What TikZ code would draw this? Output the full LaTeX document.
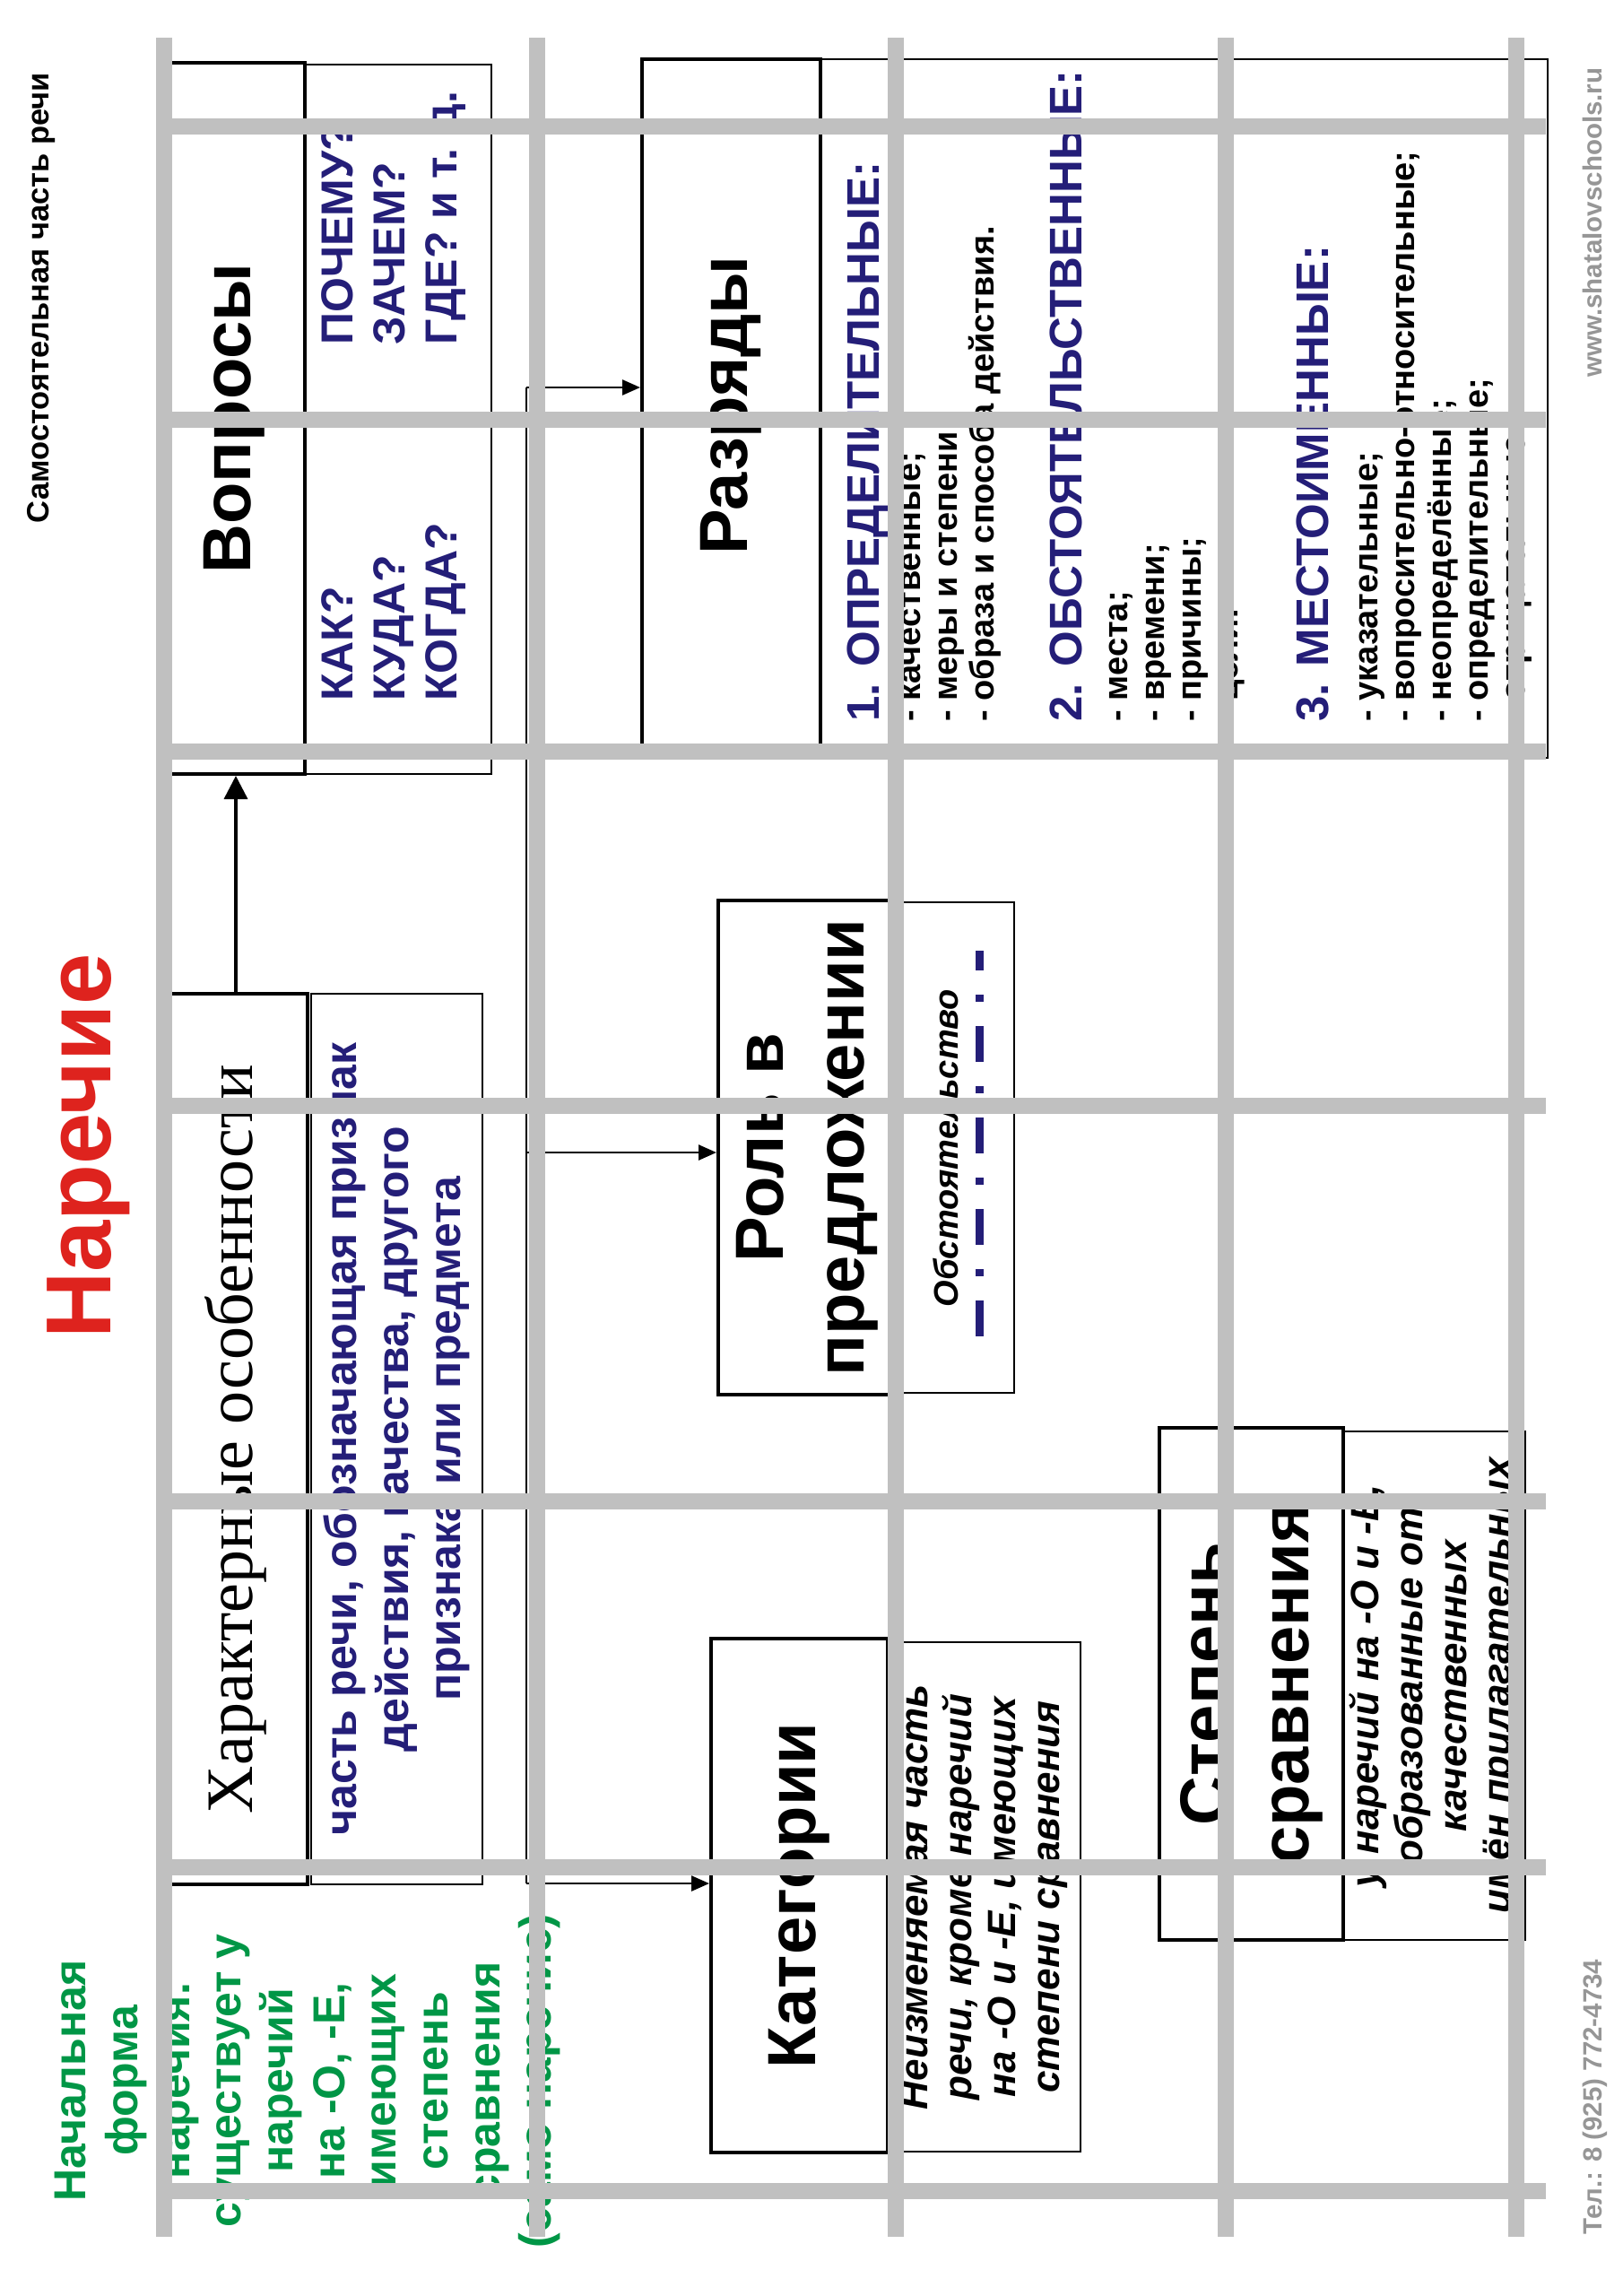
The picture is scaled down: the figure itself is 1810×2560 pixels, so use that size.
\documentclass[tikz,border=0pt]{standalone}
\usepackage{fontspec}
\setmainfont{Liberation Sans}
\newfontfamily\serifrm{Liberation Serif}
\usetikzlibrary{arrows.meta}

\definecolor{navy}{RGB}{36,30,120}
\definecolor{adgreen}{RGB}{0,150,70}
\definecolor{adred}{RGB}{222,35,30}
\definecolor{gridgrey}{RGB}{192,192,192}
\definecolor{footgrey}{RGB}{150,150,150}

\begin{document}
\begin{tikzpicture}[x=1pt,y=-1pt,
  bigbox/.style={draw,line width=4pt,rotate=90,inner sep=0pt,align=center,
    font=\bfseries\fontsize{76}{90}\selectfont},
  thinbox/.style={draw,line width=2pt,rotate=90,inner sep=0pt,align=center},
  navyfont/.style={text=navy,font=\bfseries\fontsize{50}{58}\selectfont},
  navytext/.style={rotate=90,inner sep=0pt,navyfont},
  head/.style={rotate=90,inner sep=0pt,text=navy,
    font=\bfseries\fontsize{51}{56}\selectfont},
  item/.style={rotate=90,inner sep=0pt,align=left,
    font=\bfseries\fontsize{38}{41}\selectfont},
  note/.style={font=\bfseries\itshape\fontsize{44}{49}\selectfont},
  foot/.style={rotate=90,inner sep=0pt,text=footgrey,
    font=\bfseries\fontsize{29.5}{34}\selectfont},
  arr/.style={-{Triangle[length=20pt,width=17pt]},line width=2.5pt},
  gridbar/.style={draw=gridgrey,line width=18pt}]
\useasboundingbox (0,0) rectangle (1810,2560);

% titles and footer
\node[rotate=90,inner sep=0pt,font=\bfseries\fontsize{34.5}{40}\selectfont,anchor=base]
  (part) at (54,332) {Самостоятельная часть речи};
\node[rotate=90,inner sep=0pt,text=adred,font=\bfseries\fontsize{103}{110}\selectfont,anchor=base]
  (title) at (123,1278) {Наречие};
\node[foot,anchor=base] (site) at (1786,248) {www.shatalovschools.ru};
\node[foot,anchor=base] (phone) at (1786,2338) {Тел.: 8 (925) 772-4734};

% questions
\node[bigbox,minimum width=793,minimum height=157] (vopr) at (261.5,466.5) {Вопросы};
\node[thinbox,minimum width=791,minimum height=208] (quest) at (444,467.5) {};
\node[navytext,align=left,anchor=north west] (q1) at (358,782) {КАК?\\КУДА?\\КОГДА?};
\node[navytext,align=left,anchor=north west] (q2) at (358,385) {ПОЧЕМУ?\\ЗАЧЕМ?\\ГДЕ? и т. д.};

% features
\node[bigbox,minimum width=993,minimum height=160,
  font=\serifrm\fontsize{74}{90}\selectfont] (char) at (263,1604.5) {Характерные особенности};
\node[thinbox,minimum width=993,minimum height=191,navyfont] (defn) at (442.5,1604.5)
  {часть речи, обозначающая признак\\действия, качества, другого\\признака или предмета};
\node[rotate=90,inner sep=0pt,align=center,text=adgreen,anchor=north,
  font=\bfseries\fontsize{50}{57.7}\selectfont] (start) at (61,2320)
  {Начальная\\форма\\наречия.\\существует у\\наречий\\на -О, -Е,\\имеющих\\степень\\сравнения\\(само наречие)};

% groups
\node[bigbox,minimum width=772,minimum height=199] (razr) at (815.5,452) {Разряды};
\node[thinbox,minimum width=779,minimum height=811] (list) at (1320.5,455.5) {};
\node[head,anchor=base west] (h1) at (980,805) {1. ОПРЕДЕЛИТЕЛЬНЫЕ:};
\node[item,anchor=base west] (i1) at (1108,805)
  {- качественные;\\- меры и степени;\\- образа и способа действия.};
\node[head,anchor=base west] (h2) at (1206,805) {2. ОБСТОЯТЕЛЬСТВЕННЫЕ:};
\node[item,anchor=base west] (i2) at (1380,805)
  {- места;\\- времени;\\- причины;\\- цели.};
\node[head,anchor=base west] (h3) at (1481,805) {3. МЕСТОИМЕННЫЕ:};
\node[item,anchor=base west] (i3) at (1700,805)
  {- указательные;\\- вопросительно-относительные;\\- неопределённые;\\- определительные;\\- отрицательные.};

% role
\node[bigbox,minimum width=551,minimum height=198] (role) at (900,1279.5) {Роль в\\предложении};
\node[thinbox,minimum width=547,minimum height=132] (obst) at (1065,1279.5) {};
\node[rotate=90,inner sep=0pt,anchor=base,font=\bfseries\itshape\fontsize{38}{44}\selectfont]
  (obtxt) at (1068,1280) {Обстоятельство};
\draw[navy,line width=9pt,dash pattern=on 40pt off 27pt on 8pt off 27pt] (1092,1490) -- (1092,1060);

% categories and degrees
\node[bigbox,minimum width=573,minimum height=197] (kat) at (891.5,2113.5) {Категории};
\node[thinbox,minimum width=568,minimum height=215,note] (katd) at (1097.5,2115)
  {Неизменяемая часть\\речи, кроме наречий\\на -О и -Е, имеющих\\степени сравнения};
\node[bigbox,minimum width=571,minimum height=205] (step) at (1395.5,1877.5) {Степень\\сравнения};
\node[thinbox,minimum width=567,minimum height=203,note] (stepd) at (1599.5,1879.5)
  {у наречий на -О и -Е,\\образованные от\\качественных\\имён прилагательных};

% connectors
\coordinate (s1) at (587,432);
\coordinate (s2) at (587,1285);
\coordinate (s3) at (587,2100);
\draw[line width=2.5pt] (s1) -- (s3);
\draw[arr] (s1) -- (s1 -| razr.north);
\draw[arr] (s2) -- (s2 -| role.north);
\draw[arr] (s3) -- (s3 -| kat.north);
\draw[-{Triangle[length=26pt,width=26pt]},line width=3.5pt] (char.east) -- (char.east |- vopr.west);

% grid over the sheet
\foreach \gx in {183,599,999,1367,1691}
  \draw[gridbar] (\gx,42) -- (\gx,2494);
\foreach \gy in {141,468,838,1233,1674,2082,2443}
  \draw[gridbar] (183,\gy) -- (1724,\gy);
\end{tikzpicture}
\end{document}
